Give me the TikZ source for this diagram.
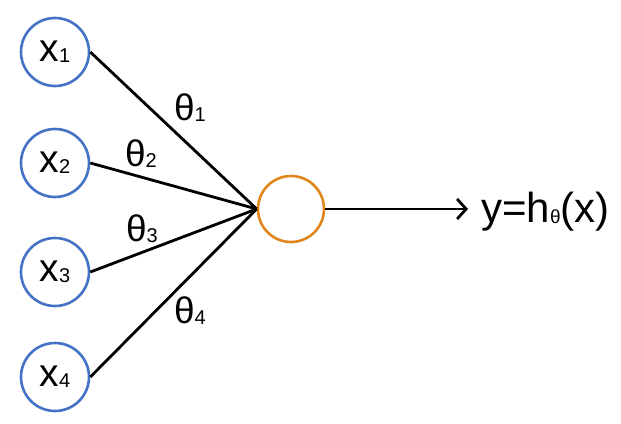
\documentclass[tikz,border=0pt]{standalone}
\usepackage{fontspec}
\setmainfont{Liberation Sans}
\usetikzlibrary{arrows.meta}
\definecolor{inblue}{HTML}{4472C4}
\definecolor{outorange}{HTML}{E0861A}
\newcommand{\sbs}[1]{{\fontsize{20}{20}\selectfont\raisebox{-1pt}{#1}}}
\tikzset{
  x=1pt, y=-1pt,
  innode/.style={circle, draw=inblue, line width=2.6pt, minimum size=68pt, inner sep=0pt, font=\fontsize{39}{40}\selectfont},
  outnode/.style={circle, draw=outorange, line width=2.6pt, minimum size=66pt, inner sep=0pt},
  conn/.style={line width=2.8pt, black},
  wlabel/.style={inner sep=0pt, font=\fontsize{37}{38}\selectfont},
}
\begin{document}
\begin{tikzpicture}
\useasboundingbox (0,0) rectangle (621,423);
\node[innode] (x1) at (55,52) {x\sbs{1}};
\node[innode] (x2) at (55,163) {x\sbs{2}};
\node[innode] (x3) at (55,272) {x\sbs{3}};
\node[innode] (x4) at (55,377) {x\sbs{4}};
\node[outnode] (o) at (291,209) {};
\coordinate (tip) at (468,209);
\node[anchor=west, inner sep=0pt, font=\fontsize{42}{44}\selectfont] (y) at (481,212) {y=h{\fontsize{19}{19}\selectfont\raisebox{-1pt}{θ}}(x)};
\draw[conn] (x1.east) -- (o.west);
\draw[conn] (x2.east) -- (o.west);
\draw[conn] (x3.east) -- (o.west);
\draw[conn] (x4.east) -- (o.west);
\draw[conn, -{Straight Barb[length=9pt,width=20pt,line width=2.8pt]}] (o.east) -- (tip);
\node[wlabel] (t1) at (190,108) {θ\sbs{1}};
\node[wlabel] (t2) at (141,154) {θ\sbs{2}};
\node[wlabel] (t3) at (142,229) {θ\sbs{3}};
\node[wlabel] (t4) at (190,311) {θ\sbs{4}};
\end{tikzpicture}
\end{document}
